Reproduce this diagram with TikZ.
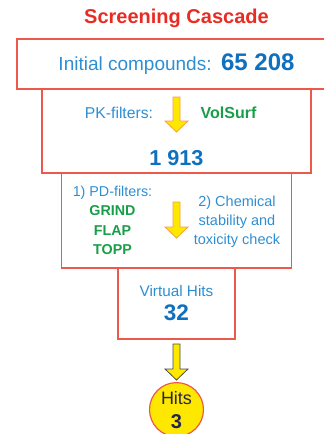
\documentclass[tikz,border=0pt]{standalone}
\usepackage{fontspec}
\setmainfont{Liberation Sans}
\usepackage{tikz}
\usetikzlibrary{positioning,calc}

\definecolor{boxred}{RGB}{238,88,74}
\definecolor{titlered}{RGB}{232,44,36}
\definecolor{txtblue}{RGB}{46,142,210}
\definecolor{numblue}{RGB}{14,112,190}
\definecolor{txtgreen}{RGB}{24,158,72}
\definecolor{arrowyellow}{RGB}{255,232,0}
\definecolor{arroworange}{RGB}{244,160,70}
\definecolor{hitsnavy}{RGB}{36,36,84}

\newcommand{\fs}[2]{\fontsize{#1}{#2}\selectfont}
% fat yellow arrow pointing down: top point, length
\newcommand{\downarrowblock}[3][arroworange]{%
  \draw[fill=arrowyellow, draw=#1, line width=0.8pt, shift={(#2)}]
    (-3.5pt,0) -- (3.5pt,0) -- (3.5pt,-#3+11pt) -- (11.5pt,-#3+11pt) -- (0,-#3)
    -- (-11.5pt,-#3+11pt) -- (-3.5pt,-#3+11pt) -- cycle;}

\begin{document}
\begin{tikzpicture}[x=1pt,y=1pt]
    \tikzstyle{stage} = [draw=boxred, line width=1.5pt, shape=rectangle, outer sep=0pt, inner sep=0pt, text=txtblue];
    \tikzstyle{hitball} = [draw=boxred, fill=arrowyellow, line width=1.2pt, shape=circle, minimum size=54pt, inner sep=0pt, text=hitsnavy, align=center];
    \tikzstyle{info} = [text=txtblue, align=center, inner sep=0pt];
    \tikzstyle{filter} = [text=txtgreen, inner sep=0pt];

    \useasboundingbox (0,0) rectangle (324,-434);
    \clip (0,0) rectangle (324,-434);

    % Nodes
    \node [text=titlered, font=\bfseries\fs{20}{24}] (title) at (176.5,-18) {Screening Cascade};
    \node [stage, minimum width=319pt, minimum height=50pt, font=\fs{19}{22}] (init) at (176.5,-64)
        {Initial compounds:\hspace{0.5em}{\color{numblue}\bfseries\fs{24}{28}65 208}};
    \node [stage, below=0pt of init, minimum width=269pt, minimum height=84pt] (pk) {};
    \node [stage, below=0pt of pk, minimum width=230pt, minimum height=95pt] (pd) {};
    \node [stage, below=0pt of pd, minimum width=117pt, minimum height=71pt, align=center, font=\fs{15.3}{24}] (vhits)
        {Virtual Hits\\{\color{numblue}\bfseries\fs{22.5}{24}32}};
    \node [hitball, below=43pt of vhits, font=\fs{18}{24}] (hits) {Hits\\{\bfseries\fs{20}{24}3}};

    \node [info, font=\fs{15.7}{19}] (pklabel) at ([xshift=-57.5pt,yshift=-24pt]pk.north) {PK-filters:};
    \node [filter, font=\bfseries\fs{16}{19}] (volsurf) at ([xshift=52pt,yshift=-24pt]pk.north) {VolSurf};
    \node [info, text=numblue, font=\bfseries\fs{21.6}{24}] (pkcount) at ([yshift=-69pt]pk.north) {1 913};

    \node [info, font=\fs{14.3}{19.3}] (pdlist) at ([xshift=-64pt]pd.center)
        {1) PD-filters:\\{\color{txtgreen}\bfseries GRIND}\\{\color{txtgreen}\bfseries FLAP}\\{\color{txtgreen}\bfseries TOPP}};
    \node [info, font=\fs{14.5}{19}] (chemcheck) at ([xshift=60.5pt,yshift=-1.5pt]pd.center)
        {2) Chemical\\stability and\\toxicity check};

    \coordinate (pkarrow) at ([yshift=-8pt]pk.north);
    \coordinate (pdarrow) at ([yshift=-29pt]pd.north);
    \coordinate (hitsarrow) at ([yshift=-5pt]vhits.south);

    % Paths
    \downarrowblock{pkarrow}{35pt}
    \downarrowblock{pdarrow}{36pt}
    \downarrowblock[gray!60!black]{hitsarrow}{36pt}
\end{tikzpicture}
\end{document}
